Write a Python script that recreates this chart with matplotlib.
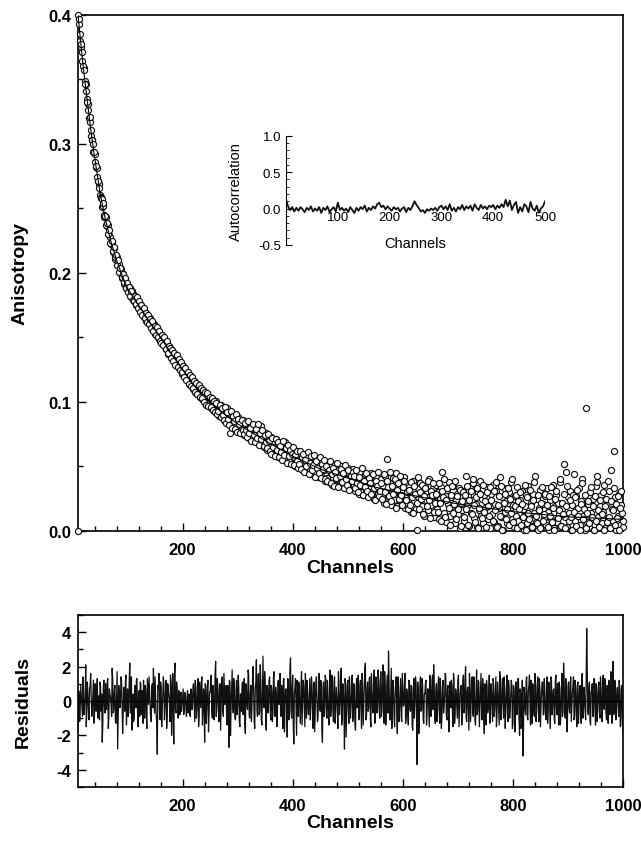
import numpy as np
import matplotlib
matplotlib.use("Agg")
import matplotlib.pyplot as plt
from matplotlib.ticker import MultipleLocator

plt.rcParams['font.family'] = ['Liberation Sans', 'DejaVu Sans']
plt.rcParams['axes.unicode_minus'] = False

# fitted anisotropy decay (channel, r)
fit_ch = [10, 15, 20, 25, 30, 35, 40, 50, 60, 70, 80, 90, 100, 120, 140, 160, 180, 200,
          220, 240, 260, 280, 300, 350, 400, 450, 500, 550, 600, 650, 700, 750, 800,
          850, 900, 950, 1000]
fit_r = [.400, .378, .358, .340, .322, .305, .290, .262, .241, .224, .210, .198, .188,
         .175, .162, .150, .137, .125, .113, .104, .096, .089, .083, .070, .058, .048,
         .041, .034, .029, .025, .021, .018, .015, .013, .011, .010, .009]

# measured anisotropy, even channels 10..1000, in units of 0.001
r_even = [
    400, 393, 380, 375, 364, 359, 349, 346, 335, 331, 320, 317, 306, 303, 294, 292, 282, 281, 271, 269, 260, 259, 251, 252, 243,
    243, 236, 237, 229, 228, 222, 224, 216, 219, 211, 212, 206, 207, 200, 203, 196, 199, 191, 195, 188, 190, 185, 188, 181, 186,
    184, 178, 181, 175, 177, 172, 176, 173, 168, 172, 166, 170, 163, 167, 161, 165, 158, 162, 156, 160, 153, 158, 151, 155, 149,
    152, 147, 145, 149, 148, 141, 145, 137, 138, 141, 139, 133, 137, 130, 129, 135, 127, 131, 129, 122, 128, 121, 124, 118, 123,
    122, 114, 119, 118, 110, 116, 108, 114, 106, 112, 111, 104, 110, 102, 107, 100, 106, 99, 104, 97, 103, 95, 101, 94, 99,
    101, 92, 97, 89, 95, 98, 88, 94, 86, 92, 95, 84, 90, 76, 91, 83, 89, 80, 87, 81, 88, 79, 85, 78, 84,
    86, 74, 82, 77, 84, 72, 81, 82, 71, 79, 81, 70, 77, 80, 68, 75, 81, 67, 74, 65, 73, 76, 63, 71, 66,
    73, 62, 70, 64, 59, 71, 66, 57, 68, 61, 67, 56, 64, 69, 55, 62, 66, 54, 61, 52, 63, 57, 50, 60, 54,
    61, 50, 58, 53, 47, 60, 51, 56, 46, 58, 49, 54, 44, 57, 48, 53, 45, 56, 42, 51, 55, 43, 50, 47, 39,
    53, 41, 49, 38, 51, 45, 36, 47, 52, 40, 45, 35, 48, 42, 50, 37, 44, 34, 46, 39, 49, 33, 42, 38, 45,
    48, 36, 31, 44, 39, 29, 46, 35, 41, 28, 38, 44, 32, 27, 40, 35, 45, 30, 37, 25, 33, 42, 29, 36, 26,
    40, 28, 35, 22, 43, 31, 56, 26, 37, 20, 33, 41, 24, 30, 45, 19, 34, 27, 38, 22, 31, 42, 18, 29, 36,
    21, 34, 15, 28, 39, 23, 31, 17, 1, 33, 22, 37, 19, 29, 12, 35, 24, 31, 16, 40, 27, 20, 33, 11, 28,
    36, 17, 30, 9, 25, 34, 46, 14, 28, 7, 32, 21, 38, 12, 26, 19, 35, 6, 24, 29, 13, 33, 2, 22, 16,
    31, 8, 43, 19, 27, 4, 35, 14, 24, 37, 10, 21, 3, 30, 16, 39, 12, 25, 6, 28, 18, 34, 9, 22, 2,
    29, 13, 36, 7, 21, 31, 4, 18, 42, 11, 26, 1, 33, 15, 23, 6, 30, 17, 38, 9, 20, 3, 27, 12, 34,
    8, 24, 2, 31, 16, 1, 19, 28, 6, 35, 11, 22, 4, 29, 14, 43, 7, 25, 1, 18, 32, 3, 21, 10, 27,
    5, 33, 15, 1, 24, 9, 36, 2, 19, 28, 7, 22, 13, 38, 4, 17, 52, 11, 46, 3, 26, 14, 31, 1, 20,
    44, 8, 27, 2, 18, 33, 5, 23, 40, 12, 1, 95, 7, 21, 3, 30, 14, 9, 25, 1, 35, 43, 11, 4, 19,
    28, 6, 15, 36, 2, 22, 10, 31, 4, 47, 17, 8, 62, 26, 1, 12, 29, 5, 20, 14, 3,
]
# measured anisotropy, odd channels 11..999, in units of 0.001
r_odd = [
    397, 385, 377, 371, 360, 357, 346, 341, 332, 326, 321, 311, 303, 300, 294, 286, 283, 274, 271, 266, 258, 257, 254, 245, 244,
    237, 239, 230, 233, 223, 225, 217, 220, 212, 214, 206, 210, 201, 204, 197, 199, 193, 196, 188, 192, 185, 189, 182, 186, 179,
    178, 182, 176, 181, 173, 178, 170, 175, 167, 173, 165, 169, 162, 167, 160, 164, 157, 163, 155, 159, 152, 158, 150, 155, 147,
    146, 152, 144, 150, 141, 147, 138, 143, 142, 134, 140, 132, 138, 129, 136, 127, 133, 125, 131, 123, 128, 119, 126, 117, 123,
    114, 121, 112, 119, 111, 116, 108, 115, 106, 113, 104, 111, 103, 109, 100, 108, 98, 107, 97, 104, 96, 103, 94, 101, 92,
    99, 91, 93, 98, 88, 95, 90, 86, 96, 84, 92, 87, 82, 93, 80, 89, 85, 79, 91, 77, 87, 83, 76, 86, 78,
    75, 84, 78, 73, 85, 76, 80, 70, 83, 74, 69, 79, 72, 83, 67, 76, 71, 78, 66, 74, 69, 64, 75, 70, 62,
    60, 72, 65, 58, 71, 63, 69, 57, 66, 61, 55, 70, 59, 64, 53, 67, 58, 63, 52, 60, 65, 51, 59, 62, 49,
    52, 62, 48, 57, 60, 46, 55, 50, 61, 44, 53, 58, 47, 51, 59, 42, 54, 49, 45, 57, 41, 52, 48, 55, 40,
    50, 39, 47, 54, 37, 44, 49, 35, 46, 41, 53, 34, 43, 48, 38, 45, 33, 51, 40, 36, 47, 32, 43, 39, 46,
    43, 33, 47, 37, 30, 42, 36, 49, 28, 39, 34, 45, 31, 26, 41, 37, 29, 44, 33, 24, 39, 35, 46, 27, 31,
    37, 25, 44, 30, 21, 39, 34, 27, 46, 23, 35, 29, 40, 18, 32, 37, 25, 43, 28, 20, 34, 39, 24, 30, 17,
    32, 20, 38, 26, 14, 35, 29, 22, 42, 17, 30, 25, 36, 13, 27, 33, 19, 39, 24, 10, 31, 28, 37, 15, 22,
    29, 15, 37, 22, 8, 31, 26, 40, 11, 24, 33, 18, 5, 28, 35, 14, 21, 39, 9, 27, 17, 32, 4, 23, 30,
    11, 28, 17, 35, 5, 24, 31, 13, 40, 20, 7, 26, 33, 2, 18, 29, 10, 36, 15, 23, 3, 30, 19, 12, 34,
    24, 8, 31, 16, 38, 3, 20, 27, 12, 35, 1, 22, 29, 9, 17, 33, 5, 25, 14, 40, 7, 19, 28, 2, 23,
    17, 30, 5, 21, 11, 36, 1, 26, 14, 9, 32, 19, 3, 24, 38, 12, 6, 28, 16, 2, 22, 34, 8, 13, 29,
    20, 3, 27, 12, 34, 7, 18, 1, 25, 31, 10, 16, 40, 4, 22, 13, 29, 2, 19, 35, 8, 24, 11, 1, 28,
    15, 26, 4, 32, 12, 1, 21, 37, 9, 17, 28, 2, 14, 23, 6, 34, 11, 19, 1, 27, 8, 38, 16, 3, 24,
    13, 30, 1, 19, 25, 7, 39, 11, 2, 23, 16, 33, 5, 21, 10, 27, 1, 18, 31, 8,
]
stray_ch = [10]
stray_r = [0.0]

# weighted residuals, even channels 10..1000, in units of 0.1
res_even = [
    -18, 5, -4, 3, -9, 6, -2, 21, -7, 4, -11, 9, 2, -5, 12, -8, 1, 7, -10, 3, 11, -6, -24, 8, -3,
    10, -5, 13, -9, 4, -2, 19, -7, 6, -12, 3, -28, 9, -4, 14, 0, -8, 5, 11, -14, 7, -3, 22, -6, -17,
    4, -10, 8, 12, -5, 2, -9, 10, 6, -13, 3, 9, -7, 13, -2, 5, -11, 8, -4, 1, 14, -8, -31, 7, -6,
    11, -15, 3, 9, -4, 12, -9, 6, -1, 15, -20, 16, -25, 22, -7, 8, -10, 4, 2, -6, 3, -8, 5, -4, 2,
    -7, 4, -9, 6, -3, 10, -12, 8, -5, 13, -9, 3, 11, -14, 7, -24, 9, -4, 12, -8, 5, 15, -10, 2, -6,
    23, -5, 8, -12, 10, -3, 14, -9, 6, 1, -13, 9, -27, 11, -4, 18, -7, 5, -11, 12, -2, 8, -15, 4, 10,
    -8, 13, -19, 6, -5, 15, -10, 9, -3, 20, -12, 7, 24, -9, 16, -6, 11, -14, 26, -4, 10, -17, 8, -2, 14,
    -11, 6, -7, 17, -9, 4, -13, 12, 2, -8, 9, -16, 13, -3, 7, -21, 11, -6, 25, -10, 15, -25, 8, -4, 12,
    -9, 5, -13, 17, -2, 9, -15, 6, 12, -7, 3, -11, 14, -5, 8, -18, 10, 1, -9, 16, -6, 7, -24, 11, -3,
    13, -10, 5, -14, 18, -4, 9, -12, 14, -7, 3, -16, 11, -2, 19, -9, 6, -28, 10, -5, 12, -13, 7, -3, 15,
    -8, 4, -17, 13, 2, -11, 9, -5, 16, -14, 7, 22, -9, 11, -4, 14, -15, 6, -7, 18, -12, 9, -3, 12, -10,
    17, -6, 21, -13, 8, -4, 15, 29, -11, 5, -16, 12, -8, 3, 14, -19, 9, -5, 13, -12, 7, -2, 16, -10, 4,
    -14, 11, -6, 8, -17, 13, -3, 10, -37, 6, -9, 14, -5, 9, -13, 4, 12, -8, 7, -15, 11, -2, 15, 21, -10,
    6, -12, 10, -4, 13, -16, 8, -7, 3, 14, -11, 9, -18, 5, 12, -6, 16, -13, 7, -3, 11, -15, 4, 9, -8,
    15, -5, 20, -12, 8, -17, 10, -2, 14, -9, 6, -14, 18, -6, 11, -4, 16, -11, 7, -19, 9, 12, -7, 4, -13,
    10, -3, 13, -9, 6, -15, 11, -5, 17, -11, 8, -2, 14, -16, 5, -7, 12, -10, 3, 9, -13, 7, -18, 11, -6,
    13, -20, 4, -11, -32, 8, -5, 12, -9, 6, 15, -14, 3, 10, -7, 16, -12, 8, -3, 13, -15, 5, 11, -8, 2,
    -11, 14, -6, 9, -16, 12, -3, 7, -13, 15, -8, 4, 11, -14, 6, -9, 22, -5, 13, -18, 8, -4, 10, -12, 5,
    14, -9, 7, -15, 11, -4, 9, -13, 16, -7, 3, -11, 42, -6, 8, -12, 5, 10, -9, 13, -14, 6, -3, 11, -10,
    7, -12, 15, -5, 9, -11, 4, 12, -8, 17, -13, 23, -6, 10, -3, 8, -9, 6, -14, 9, -18,
]
# weighted residuals, odd channels 11..999, in units of 0.1
res_odd = [
    6, -12, 9, -3, 14, -8, 2, -15, 11, -5, 7, 16, -9, 3, -13, 10, -6, 13, -2, -11, 8, 4, -14, 12, -7,
    -4, 11, -16, 7, 2, -9, 13, -5, 9, -13, 17, -10, 5, -3, 12, -19, 8, -6, 15, -2, -9, 11, -7, 14, 3,
    -12, 9, -4, 13, -15, 6, 11, -8, 3, 12, -10, 7, -16, 5, 14, -3, -12, 10, 19, -7, 4, -13, 9, 16, -11,
    8, -4, 14, -11, 6, -16, 10, 3, -12, 9, 4, -10, 13, -5, 11, -3, 6, -8, 5, -2, 7, -5, 3, -9, 6,
    3, -8, 7, -5, 9, -2, 12, -10, 6, -15, 11, -4, 14, -7, 2, 10, -13, 8, -18, 5, 12, -6, 9, -11, 16,
    -9, 13, -4, 7, -17, 11, -6, 16, -2, 9, -14, 5, 12, -20, 8, -3, 13, -10, 6, -8, 15, -12, 4, -6, 11,
    6, -14, 10, -3, 18, -9, 4, -12, 13, 7, -16, 11, -5, 15, -8, 21, -11, 6, -3, 17, -13, 9, -7, 12, -4,
    9, -12, 14, -5, 8, -15, 11, -2, 16, -9, 5, 12, -18, 7, -4, 13, -11, 19, -6, 9, -14, 4, 13, -20, 7,
    11, -6, 8, -14, 12, -3, 16, -10, 5, -8, 13, -2, 9, -16, 11, -5, 14, -12, 6, -3, 12, -17, 8, -9, 15,
    -7, 12, -11, 4, -9, 15, -5, 11, -13, 8, -3, 17, -8, 6, -14, 10, -4, 13, -21, 9, -6, 14, -10, 5, -12,
    10, -13, 6, -4, 15, -9, 12, -16, 8, -3, 19, -11, 7, -6, 13, -10, 16, -4, 9, -13, 14, -7, 18, -5, 11,
    -9, 13, -5, 17, -14, 9, -7, 12, -11, 19, -4, 8, -15, 10, -6, 14, -12, 5, -9, 16, -3, 11, -13, 7, -8,
    12, -5, 9, -15, 6, -10, 14, -4, 11, -19, 8, -6, 13, -11, 4, 10, -14, 7, -3, 15, -9, 12, -5, 9, -13,
    10, -6, 14, -13, 5, -9, 12, -3, 16, -8, 7, -12, 11, -4, 9, -15, 13, -7, 4, -10, 15, -5, 8, -14, 11,
    -7, 13, -10, 6, -4, 16, -12, 9, -6, 14, -11, 5, -8, 12, -15, 7, -3, 13, -9, 10, -14, 8, -5, 15, -10,
    6, -12, 9, -4, 14, -9, 5, -14, 11, -6, 13, -10, 7, -3, 15, -12, 8, -5, 12, -16, 9, -4, 11, -8, 13,
    -10, 7, -16, 12, -22, 5, -8, 14, -11, 9, -4, 12, -13, 6, -9, 10, -5, 14, -12, 7, -3, 11, -8, 13, -6,
    9, -13, 11, -5, 14, -8, 6, -11, 12, -4, 10, -14, 7, -9, 16, -6, 12, -10, 5, -13, 11, -7, 14, -4, 9,
    -11, 12, -6, 9, -13, 7, -4, 15, -10, 8, -5, 12, 20, -8, 11, -14, 6, -9, 13, -5, 10, -12, 8, -6, 14,
    -9, 11, -4, 13, -7, 9, -13, 6, 10, -5, 15, -8, 12, -11, 7, -4, 12, -15, 8, -10,
]

# autocorrelation of residuals, every 4th channel from 0, in units of 0.01
acorr = [
    12, 3, -2, 2, -4, 1, -3, 2, -1, -5, 1, -2, 3, -4, 0, -3, 2, -6, 1, -2, 3, -5, -1, 2, -4,
    8, -2, 1, -3, 0, -5, 2, -2, -6, 1, -3, 2, -1, 4, -4, 1, -2, 3, 0, 6, 8, 2, 4, -1, 3,
    0, -3, 2, -1, 1, -4, 0, 2, -5, 1, -2, 3, 10, 5, 1, -4, -2, -6, -1, -3, 0, -2, 1, -3, 2,
    4, -1, 3, -2, 6, -3, 1, -4, 2, -1, 5, -2, 3, 0, 4, -3, 6, 1, -2, 5, 0, 3, -1, 4, 2,
    5, -1, 4, 1, 6, 2, 12, 3, 11, -2, 5, 9, -6, 2, -4, 6, 3, -5, 9, 0, -3, 4, -6, 0, 3, 10,
]

r_ch = np.concatenate([10 + 2 * np.arange(len(r_even)), 11 + 2 * np.arange(len(r_odd))])
r_all = np.concatenate([r_even, r_odd]) / 1000

res_ch = np.concatenate([10 + 2 * np.arange(len(res_even)), 11 + 2 * np.arange(len(res_odd))])
res_all = np.concatenate([res_even, res_odd]) / 10
order = np.argsort(res_ch)
res_ch, res_all = res_ch[order], res_all[order]

ac_ch = 4 * np.arange(len(acorr))

fig = plt.figure(figsize=(6.41, 8.45), dpi=100)

# main anisotropy panel
ax = fig.add_axes([0.1217, 0.3704, 0.8503, 0.6110])
ax.plot(r_ch, r_all, 'o', mfc='white', mec='#111111', ms=4.4, mew=0.85,
        clip_on=False, zorder=3)
ax.plot(stray_ch, stray_r, 'o', mfc='white', mec='#111111', ms=4.4, mew=0.85, clip_on=False, zorder=3)
ax.plot(fit_ch, fit_r, '-', color='black', lw=0.8, zorder=4)
ax.set_xlim(10, 1000)
ax.set_ylim(0, 0.4)
ax.xaxis.set_minor_locator(MultipleLocator(40))
ax.yaxis.set_minor_locator(MultipleLocator(0.05))
ax.set_xticks([200, 400, 600, 800, 1000])
ax.set_yticks([0.0, 0.1, 0.2, 0.3, 0.4])
ax.set_yticklabels(['0.0', '0.1', '0.2', '0.3', '0.4'])
ax.tick_params(which='both', direction='in', labelsize=12, width=1)
ax.tick_params(which='major', length=6, pad=8)
ax.tick_params(which='minor', length=3.5)
ax.tick_params(axis='y', pad=5)
for lab in ax.get_xticklabels() + ax.get_yticklabels():
    lab.set_fontweight('bold')
ax.set_xlabel('Channels', fontsize=14, fontweight='bold', labelpad=1)
ax.set_ylabel('Anisotropy', fontsize=14, fontweight='bold', labelpad=14)
for s in ax.spines.values():
    s.set_linewidth(1.2)

# inset autocorrelation
ins = fig.add_axes([0.4462, 0.7089, 0.4041, 0.1293])
ins.plot(ac_ch, np.array(acorr) / 100, '-', color='#111111', lw=1.3)
ins.set_xlim(0, 500)
ins.set_ylim(-0.5, 1.0)
ins.patch.set_alpha(0)
for side in ['top', 'right']:
    ins.spines[side].set_visible(False)
ins.spines['bottom'].set_position(('data', 0))
ins.spines['bottom'].set_color('none')
ins.set_xticks([100, 200, 300, 400, 500])
ins.yaxis.set_minor_locator(MultipleLocator(0.1))
ins.set_yticks([-0.5, 0.0, 0.5, 1.0])
ins.set_yticklabels(['-0.5', '0.0', '0.5', '1.0'])
ins.tick_params(axis='x', length=0, labelsize=9.5, pad=2)
ins.tick_params(axis='y', which='both', direction='in', labelsize=9.5)
ins.tick_params(axis='y', which='major', length=4)
ins.tick_params(axis='y', which='minor', length=2)
ins.set_xlabel('Channels', fontsize=10.5)
ins.xaxis.set_label_coords(0.5, 0.085)
ins.set_ylabel('Autocorrelation', fontsize=10.5, labelpad=11)

# residuals panel
axr = fig.add_axes([0.1217, 0.0675, 0.8503, 0.2036])
axr.plot(res_ch, res_all, '-', color='#111111', lw=0.9)
axr.axhline(0, color='black', lw=1.0)
axr.set_xlim(10, 1000)
axr.set_ylim(-5, 5)
axr.xaxis.set_minor_locator(MultipleLocator(40))
axr.set_xticks([200, 400, 600, 800, 1000])
axr.set_yticks([-4, -2, 0, 2, 4])
axr.yaxis.set_minor_locator(MultipleLocator(1))
axr.tick_params(which='both', direction='in', labelsize=12, width=1)
axr.tick_params(which='major', length=6, pad=8)
axr.tick_params(which='minor', length=3.5)
axr.tick_params(axis='y', pad=5)
for lab in axr.get_xticklabels() + axr.get_yticklabels():
    lab.set_fontweight('bold')
axr.set_xlabel('Channels', fontsize=14, fontweight='bold', labelpad=1)
axr.set_ylabel('Residuals', fontsize=14, fontweight='bold', labelpad=18)
for s in axr.spines.values():
    s.set_linewidth(1.2)

fig.savefig('out.png', dpi=100)
